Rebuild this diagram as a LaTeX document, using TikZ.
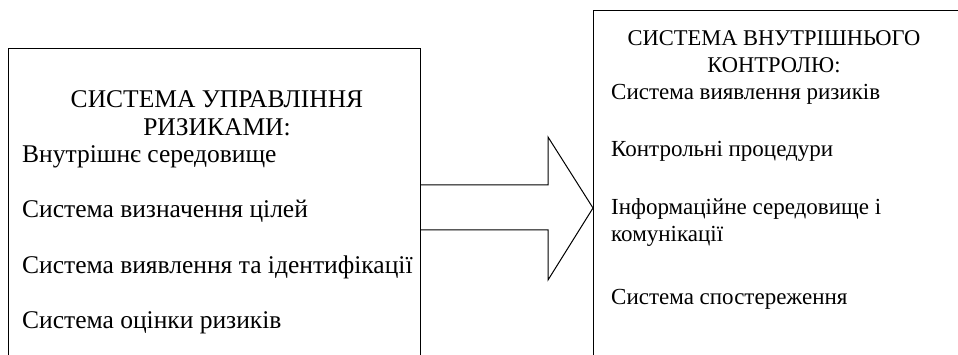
\documentclass[tikz,border=0pt]{standalone}
\usepackage{fontspec}
\setmainfont{Liberation Serif}
\usetikzlibrary{shapes,arrows,positioning}

\begin{document}
\begin{tikzpicture}[x=1pt, y=-1pt,
  every panel/.style={draw, line width=1.2pt, anchor=north west, inner sep=0pt},
  every title/.style={anchor=base, inner sep=0pt, font=\fontsize{25.5}{28}\selectfont},
  every item/.style={anchor=base west, inner sep=0pt, font=\fontsize{25.5}{28}\selectfont},
  small/.style={font=\fontsize{23}{27}\selectfont}]

\clip (0,0) rectangle (958,355);

\node [every panel, minimum width=412pt, minimum height=340pt] (risk) at (8,48) {};
\node [every panel, minimum width=400pt, minimum height=380pt] (control) at (593,10) {};

\foreach \l [count=\y] in {СИСТЕМА УПРАВЛІННЯ, РИЗИКАМИ:}
  \node [every title] (risk-title-\y) at (217,80+\y*28) {\l};

\foreach \l [count=\y] in {Внутрішнє середовище, Система визначення цілей,
    Система виявлення та ідентифікації, Система оцінки ризиків}
  \node [every item] (risk-\y) at (22,108+\y*55) {\l};

\foreach \l [count=\y] in {СИСТЕМА ВНУТРІШНЬОГО, КОНТРОЛЮ:}
  \node [every title, small, font=\fontsize{22.5}{27}\selectfont] (control-title-\y)
    at (774,19+\y*27) {\l};

\foreach \l/\b [count=\y] in {Система виявлення ризиків/100, Контрольні процедури/157,
    Інформаційне середовище і/215, комунікації/242, Система спостереження/305}
  \node [every item, small] (control-\y) at (611,\b) {\l};

% block arrow from risk to control
\draw [line width=1pt, line join=miter]
  (risk.east |- 0,185) -- (548,185) -- (548,137) -- (control.west |- 0,208)
  -- (548,280) -- (548,230) -- (risk.east |- 0,230);

\end{tikzpicture}
\end{document}
